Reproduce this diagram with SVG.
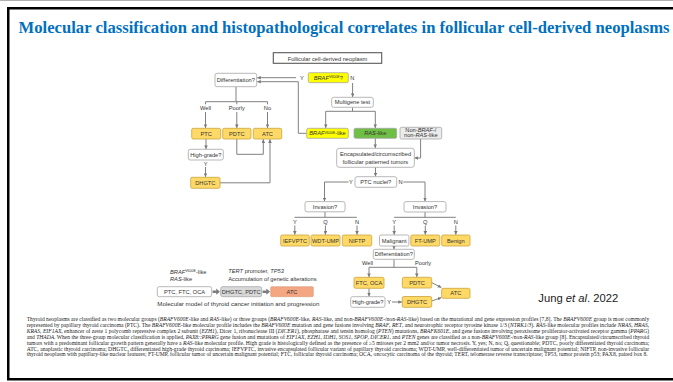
<svg xmlns="http://www.w3.org/2000/svg" width="673" height="382" viewBox="0 0 673 382">
  <style>
    .t { font-family: "Liberation Sans", Arial, sans-serif; font-size: 5.7px; fill: #333333; text-anchor: middle; }
    .s { font-family: "Liberation Sans", Arial, sans-serif; font-size: 5.7px; fill: #333333; text-anchor: start; }
    .lbl { font-family: "Liberation Sans", Arial, sans-serif; font-size: 5.7px; fill: #333333; text-anchor: middle; }
    .i { font-style: italic; }
    .sup { font-size: 3.6px; }
    .wb { fill: #ffffff; stroke: #a6a6a6; stroke-width: 0.8; }
    .ob { fill: #ffd966; stroke: #c9a33e; stroke-width: 0.8; }
    .yb { fill: #ffff00; stroke: #a6a6a6; stroke-width: 0.8; }
    .gb { fill: #6fbf45; stroke: #a6a6a6; stroke-width: 0.8; }
    .nb { fill: #ebebeb; stroke: #a6a6a6; stroke-width: 0.8; }
    .conn path { fill: none; stroke: #808080; stroke-width: 1; }
    .cap { font-family: "Liberation Serif", "Times New Roman", serif; font-size: 5.2px; fill: #222222; }
  </style>
  <defs>
    <marker id="ah" viewBox="0 0 6 6" refX="6" refY="3" markerWidth="3.6" markerHeight="3.6" orient="auto" markerUnits="userSpaceOnUse">
      <path d="M0,0 L6,3 L0,6 z" fill="#7a7a7a"/>
    </marker>
  </defs>

  <rect width="673" height="382" fill="#ffffff"/>
  <line x1="0" y1="0.5" x2="673" y2="0.5" stroke="#b0b0b0" stroke-width="1"/>
  <!-- slide frame -->
  <rect x="8.25" y="8.25" width="700" height="371" fill="none" stroke="#000000" stroke-width="2.5"/>

  <text x="18.5" y="33" font-family="Liberation Serif, 'Times New Roman', serif" font-weight="bold" font-size="16.5" fill="#0070c0" textLength="651" lengthAdjust="spacingAndGlyphs">Molecular classification and histopathological correlates in follicular cell-derived neoplasms</text>

  <!-- connectors -->
  <g class="conn">
    <path d="M296,77.7 H257.2" marker-end="url(#ah)"/>
    <path d="M306.7,133.3 H298.3 V81.7 H257.2" marker-end="url(#ah)"/>
    <path d="M352.6,83 V97" marker-end="url(#ah)"/>
    <path d="M352.5,107.3 V111.3 M325.7,111.3 H375.3"/>
    <path d="M325.7,111.3 V128" marker-end="url(#ah)"/>
    <path d="M375.3,111.3 V128" marker-end="url(#ah)"/>
    <path d="M236,86.7 V101.7 M205.5,101.7 H267.5 M205.5,101.7 V104.3 M236.8,101.7 V104.3 M267.5,101.7 V104.3"/>
    <path d="M205.5,112 V128" marker-end="url(#ah)"/>
    <path d="M236.8,112 V128" marker-end="url(#ah)"/>
    <path d="M267.5,112 V128" marker-end="url(#ah)"/>
    <path d="M206,139 V149" marker-end="url(#ah)"/>
    <path d="M205.5,167 V177" marker-end="url(#ah)"/>
    <path d="M220,182.8 H270 V139.3" marker-end="url(#ah)"/>
    <path d="M236.8,139 V154.3 H263.3 V139.3" marker-end="url(#ah)"/>
    <path d="M375.3,138.3 V148" marker-end="url(#ah)"/>
    <path d="M420.6,139 V158 H414.6" marker-end="url(#ah)"/>
    <path d="M375.5,167.3 V176.4" marker-end="url(#ah)"/>
    <path d="M348.5,182 H324.5 V201.3" marker-end="url(#ah)"/>
    <path d="M403.3,182 H425 V201.3" marker-end="url(#ah)"/>
    <path d="M325,211.8 V217.3 M294.5,217.3 H356.8"/>
    <path d="M425,211.8 V217.3 M394.2,217.3 H455.8"/>
    <path d="M294.8,225.5 V234.7" marker-end="url(#ah)"/>
    <path d="M325.4,225.5 V234.7" marker-end="url(#ah)"/>
    <path d="M357,225.5 V234.7" marker-end="url(#ah)"/>
    <path d="M394.2,225.5 V234.7" marker-end="url(#ah)"/>
    <path d="M425.3,225.5 V234.7" marker-end="url(#ah)"/>
    <path d="M455.8,225.5 V234.7" marker-end="url(#ah)"/>
    <path d="M394,246 V249.2" marker-end="url(#ah)"/>
    <path d="M394,259.3 V267.3 M369,267.3 H416.8"/>
    <path d="M369,267.3 V277" marker-end="url(#ah)"/>
    <path d="M416.8,267.3 V277" marker-end="url(#ah)"/>
    <path d="M369,288.3 V296.4" marker-end="url(#ah)"/>
    <path d="M392,302 H402" marker-end="url(#ah)"/>
    <path d="M431.7,282.6 L441.4,287.6" marker-end="url(#ah)"/>
    <path d="M431.7,301 L441.4,297.6" marker-end="url(#ah)"/>
  </g>

  <!-- main classification tree -->
  <g id="n-follicular">
    <rect x="273.3" y="52.7" width="108.4" height="10.6" fill="#ffffff" stroke="#595959" stroke-width="1.1"/>
    <text class="t" x="327.5" y="60.5" font-size="6.6">Follicular cell-derived neoplasm</text>
  </g>
  <g id="n-braf-q">
    <rect class="yb" x="308.3" y="72.7" width="40" height="10" rx="1.5"/>
    <text class="t" x="328.3" y="79.8"><tspan class="i">BRAF</tspan><tspan class="sup" dy="-1.8">V600E</tspan><tspan dy="1.8">?</tspan></text>
  </g>
  <text class="lbl" x="302" y="80">Y</text>
  <text class="lbl" x="352.3" y="80">N</text>
  <g id="n-diff1">
    <rect class="wb" x="215" y="73.3" width="41.7" height="13.4" rx="2"/>
    <text class="t" x="235.8" y="82">Differentiation?</text>
  </g>
  <g id="n-multigene">
    <rect class="wb" x="331.7" y="97.3" width="41.6" height="10" rx="2"/>
    <text class="t" x="352.5" y="104.3">Multigene test</text>
  </g>
  <text class="lbl" x="205.5" y="109.6">Well</text>
  <text class="lbl" x="236.8" y="109.6">Poorly</text>
  <text class="lbl" x="267.5" y="109.6">No</text>
  <g id="n-braf-like">
    <rect class="yb" x="306.7" y="128.3" width="41.6" height="10" rx="1.5"/>
    <text class="t" x="327.5" y="135.4"><tspan class="i">BRAF</tspan><tspan class="sup" dy="-1.8">V600E</tspan><tspan dy="1.8">-like</tspan></text>
  </g>
  <g id="n-ras-like">
    <rect class="gb" x="354" y="128.3" width="42.7" height="10" rx="1.5"/>
    <text class="t" x="375.3" y="135.4"><tspan class="i">RAS</tspan>-like</text>
  </g>
  <g id="n-non-braf-ras">
    <rect class="nb" x="400" y="127.3" width="41.7" height="11.7" rx="1.5"/>
    <text class="t" x="420.8" y="132" font-size="3.6">Non-<tspan class="i">BRAF</tspan>-/</text>
    <text class="t" x="420.8" y="136.8" font-size="3.6">non-<tspan class="i">RAS</tspan>-like</text>
  </g>
  <g id="n-ptc">
    <rect class="ob" x="191.7" y="128.3" width="29" height="10.7" rx="1.5"/>
    <text class="t" x="206.2" y="135.7">PTC</text>
  </g>
  <g id="n-pdtc">
    <rect class="ob" x="222.7" y="128.3" width="28.3" height="10.7" rx="1.5"/>
    <text class="t" x="236.8" y="135.7">PDTC</text>
  </g>
  <g id="n-atc">
    <rect class="ob" x="253.3" y="128.3" width="28.4" height="10.7" rx="1.5"/>
    <text class="t" x="267.5" y="135.7">ATC</text>
  </g>
  <g id="n-highgrade1">
    <rect class="wb" x="188.3" y="149.3" width="35" height="10.7" rx="2"/>
    <text class="t" x="205.8" y="156.7">High-grade?</text>
  </g>
  <text class="lbl" x="205.7" y="165.6">Y</text>
  <g id="n-dhgtc1">
    <rect class="ob" x="190.7" y="177.3" width="29.3" height="11" rx="1.5"/>
    <text class="t" x="205.3" y="184.9">DHGTC</text>
  </g>
  <g id="n-encapsulated">
    <rect class="wb" x="336.7" y="148.3" width="77.6" height="19" rx="2.5"/>
    <text class="t" x="375.5" y="156">Encapsulated/circumscribed</text>
    <text class="t" x="375.5" y="164">follicular patterned tumors</text>
  </g>
  <g id="n-ptc-nuclei">
    <rect class="wb" x="355" y="176.7" width="41.7" height="10.6" rx="2"/>
    <text class="t" x="375.8" y="184">PTC nuclei?</text>
  </g>
  <text class="lbl" x="351" y="184.2">Y</text>
  <text class="lbl" x="400.6" y="184.2">N</text>
  <g id="n-invasion1">
    <rect class="wb" x="305" y="201.6" width="40" height="10.2" rx="2"/>
    <text class="t" x="325" y="208.7">Invasion?</text>
  </g>
  <g id="n-invasion2">
    <rect class="wb" x="404" y="201.6" width="42" height="10.4" rx="2"/>
    <text class="t" x="425" y="208.8">Invasion?</text>
  </g>
  <text class="lbl" x="294.8" y="223.6">Y</text>
  <text class="lbl" x="325.4" y="223.6">Q</text>
  <text class="lbl" x="357" y="223.6">N</text>
  <text class="lbl" x="394.2" y="223.6">Y</text>
  <text class="lbl" x="425.3" y="223.6">Q</text>
  <text class="lbl" x="455.8" y="223.6">N</text>
  <g id="n-iefvptc">
    <rect class="ob" x="280.7" y="235" width="28.6" height="11" rx="1.5"/>
    <text class="t" x="295" y="242.6">IEFVPTC</text>
  </g>
  <g id="n-wdt-ump">
    <rect class="ob" x="311" y="235" width="29" height="11" rx="1.5"/>
    <text class="t" x="325.5" y="242.6">WDT-UMP</text>
  </g>
  <g id="n-niftp">
    <rect class="ob" x="342.3" y="235" width="29.4" height="11" rx="1.5"/>
    <text class="t" x="357" y="242.6">NIFTP</text>
  </g>
  <g id="n-malignant">
    <rect class="wb" x="379.5" y="235" width="29.4" height="11" rx="1.5"/>
    <text class="t" x="394.2" y="242.6">Malignant</text>
  </g>
  <g id="n-ft-ump">
    <rect class="ob" x="410.8" y="235" width="29" height="11" rx="1.5"/>
    <text class="t" x="425.3" y="242.6">FT-UMP</text>
  </g>
  <g id="n-benign">
    <rect class="ob" x="441.7" y="235" width="28.3" height="11" rx="1.5"/>
    <text class="t" x="455.8" y="242.6">Benign</text>
  </g>
  <g id="n-diff2">
    <rect class="wb" x="373.3" y="249.3" width="41" height="10" rx="2"/>
    <text class="t" x="393.8" y="256.3">Differentiation?</text>
  </g>
  <text class="lbl" x="367.5" y="264.6">Well</text>
  <text class="lbl" x="423" y="264.6">Poorly</text>
  <g id="n-ftc-oca">
    <rect class="ob" x="354" y="277.3" width="30" height="11" rx="1.5"/>
    <text class="t" x="369" y="284.9">FTC, OCA</text>
  </g>
  <g id="n-pdtc2">
    <rect class="ob" x="402.3" y="277.3" width="29.4" height="10.7" rx="1.5"/>
    <text class="t" x="417" y="284.8">PDTC</text>
  </g>
  <g id="n-highgrade2">
    <rect class="wb" x="350.7" y="296.7" width="34.3" height="10.6" rx="2"/>
    <text class="t" x="367.8" y="304">High-grade?</text>
  </g>
  <text class="lbl" x="389.2" y="304.1">Y</text>
  <g id="n-dhgtc2">
    <rect class="ob" x="402.3" y="296.5" width="29.4" height="10.8" rx="1.5"/>
    <text class="t" x="417" y="304">DHGTC</text>
  </g>
  <g id="n-atc2">
    <rect class="ob" x="441.7" y="288.3" width="28.3" height="10" rx="1.5"/>
    <text class="t" x="455.8" y="295.3">ATC</text>
  </g>

  <!-- molecular model of initiation and progression -->
  <g id="model">
    <text class="s" x="170" y="273.5"><tspan class="i">BRAF</tspan><tspan class="sup" dy="-1.8">V600E</tspan><tspan dy="1.8">-like</tspan></text>
    <text class="s" x="170" y="281.2"><tspan class="i">RAS</tspan>-like</text>
    <text class="s" x="228.3" y="272.5"><tspan class="i">TERT</tspan> promoter, <tspan class="i">TP53</tspan></text>
    <text class="s" x="228.3" y="281.2">Accumulation of genetic alterations</text>
    <rect class="wb" x="157.3" y="286.7" width="54.4" height="10" rx="2"/>
    <text class="t" x="184.5" y="293.8">PTC, FTC, OCA</text>
    <polygon points="212.6,290.4 216.2,290.4 216.2,288.6 220,291.7 216.2,294.8 216.2,293 212.6,293" fill="#7f7f7f"/>
    <rect x="220.7" y="286.7" width="41" height="10" rx="2" fill="#d9d9d9" stroke="#a6a6a6" stroke-width="0.8"/>
    <text class="t" x="241.2" y="293.8">DHGTC, PDTC</text>
    <polygon points="262.6,290.4 266.3,290.4 266.3,288.6 270.1,291.7 266.3,294.8 266.3,293 262.6,293" fill="#7f7f7f"/>
    <rect x="270.7" y="286.7" width="42.6" height="10" rx="1" fill="#f4a582" stroke="#d99a78" stroke-width="0.6"/>
    <text class="t" x="292" y="293.8">ATC</text>
    <text class="s" x="157.3" y="306.2" textLength="162" lengthAdjust="spacingAndGlyphs">Molecular model of thyroid cancer initiation and progression</text>
  </g>

  <text x="538.3" y="302" font-family="'Liberation Sans', Arial, sans-serif" font-size="11" fill="#1a1a1a" textLength="80" lengthAdjust="spacingAndGlyphs">Jung <tspan font-style="italic">et al</tspan>. 2022</text>

  <!-- figure legend -->
  <g class="cap">
    <text x="26.7" y="321" textLength="622.5" lengthAdjust="spacingAndGlyphs">Thyroid neoplasms are classified as two molecular groups (<tspan class="i">BRAFV600E</tspan>-like and <tspan class="i">RAS</tspan>-like) or three groups (<tspan class="i">BRAFV600E</tspan>-like, <tspan class="i">RAS</tspan>-like, and non-<tspan class="i">BRAFV600E</tspan>-/non-<tspan class="i">RAS</tspan>-like) based on the mutational and gene expression profiles [7,8]. The <tspan class="i">BRAFV600E</tspan> group is most commonly</text>
    <text x="26.7" y="326.9" textLength="622.5" lengthAdjust="spacingAndGlyphs">represented by papillary thyroid carcinoma (PTC). The <tspan class="i">BRAFV600E</tspan>-like molecular profile includes the <tspan class="i">BRAFV600E</tspan> mutation and gene fusions involving <tspan class="i">BRAF</tspan>, <tspan class="i">RET</tspan>, and neurotrophic receptor tyrosine kinase 1/3 (<tspan class="i">NTRK1/3</tspan>). <tspan class="i">RAS</tspan>-like molecular profiles include <tspan class="i">NRAS</tspan>, <tspan class="i">HRAS</tspan>,</text>
    <text x="26.7" y="332.8" textLength="622.5" lengthAdjust="spacingAndGlyphs"><tspan class="i">KRAS</tspan>, <tspan class="i">EIF1AX</tspan>, enhancer of zeste 1 polycomb repressive complex 2 subunit (<tspan class="i">EZH1</tspan>), Dicer 1, ribonuclease III (<tspan class="i">DICER1</tspan>), phosphatase and tensin homolog (<tspan class="i">PTEN</tspan>) mutations, <tspan class="i">BRAFK601E</tspan>, and gene fusions involving peroxisome proliferator-activated receptor gamma (<tspan class="i">PPARG</tspan>)</text>
    <text x="26.7" y="338.7" textLength="622.5" lengthAdjust="spacingAndGlyphs">and <tspan class="i">THADA</tspan>. When the three-group molecular classification is applied, <tspan class="i">PAX8::PPARG</tspan> gene fusion and mutations of <tspan class="i">EIF1AX</tspan>, <tspan class="i">EZH1</tspan>, <tspan class="i">IDH1</tspan>, <tspan class="i">SOS1</tspan>, <tspan class="i">SPOP</tspan>, <tspan class="i">DICER1</tspan>, and <tspan class="i">PTEN</tspan> genes are classified as a non-<tspan class="i">BRAFV600E</tspan>-/non-<tspan class="i">RAS</tspan>-like group [8]. Encapsulated/circumscribed thyroid</text>
    <text x="26.7" y="344.6" textLength="622.5" lengthAdjust="spacingAndGlyphs">tumors with a predominant follicular growth pattern generally have a <tspan class="i">RAS</tspan>-like molecular profile. High grade is histologically defined as the presence of ≥5 mitoses per 2 mm2 and/or tumor necrosis. Y, yes; N, no; Q, questionable; PDTC, poorly differentiated thyroid carcinoma;</text>
    <text x="26.7" y="350.5" textLength="622.5" lengthAdjust="spacingAndGlyphs">ATC, anaplastic thyroid carcinoma; DHGTC, differentiated high-grade thyroid carcinoma; IEFVPTC, invasive encapsulated follicular variant of papillary thyroid carcinoma; WDT-UMP, well-differentiated tumor of uncertain malignant potential; NIFTP, non-invasive follicular</text>
    <text x="26.7" y="356.4" textLength="621" lengthAdjust="spacingAndGlyphs">thyroid neoplasm with papillary-like nuclear features; FT-UMP, follicular tumor of uncertain malignant potential; FTC, follicular thyroid carcinoma; OCA, oncocytic carcinoma of the thyroid; TERT, telomerase reverse transcriptase; TP53, tumor protein p53; PAX8, paired box 8.</text>
  </g>
</svg>
